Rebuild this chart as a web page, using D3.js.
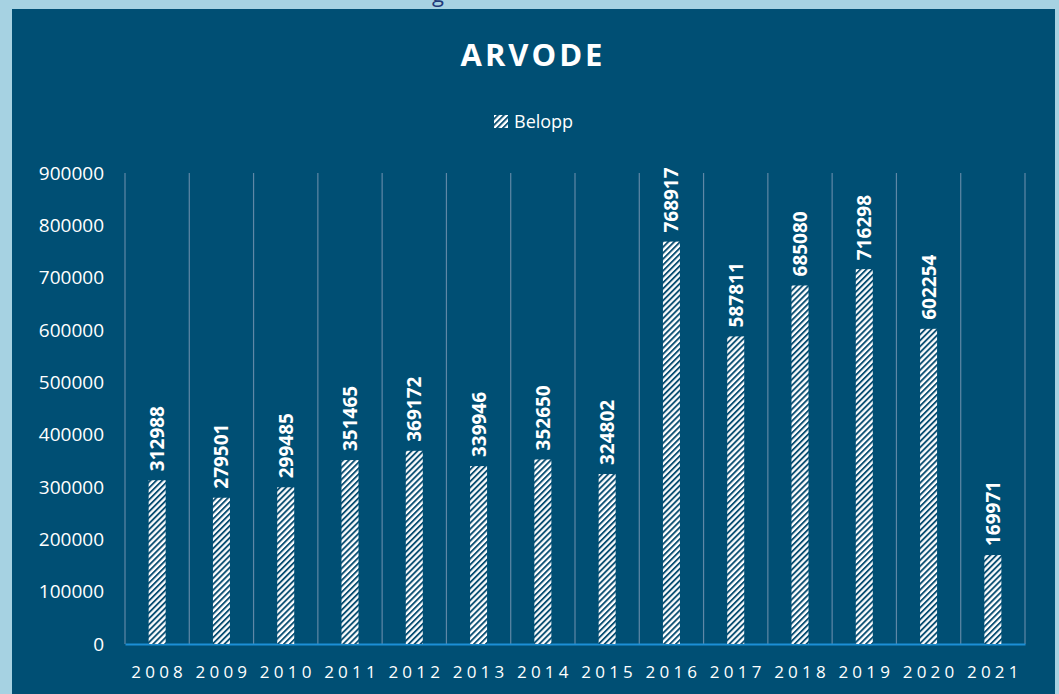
<!DOCTYPE html>
<html lang="sv">
<head>
<meta charset="UTF-8">
<title>ARVODE</title>
<script src="https://d3js.org/d3.v7.min.js"></script>
<style>
  body { margin: 0; background: #a6d2e2; overflow: hidden; }
  svg { display: block; font-family: "Open Sans", "Noto Sans", sans-serif; }
  .tick text { fill: #fff; }
</style>
</head>
<body>
<svg id="chart"></svg>
<script>
const years = ["2008","2009","2010","2011","2012","2013","2014","2015","2016","2017","2018","2019","2020","2021"];
const belopp = [312988, 279501, 299485, 351465, 369172, 339946, 352650, 324802, 768917, 587811, 685080, 716298, 602254, 169971];
const yTicks = [0, 100000, 200000, 300000, 400000, 500000, 600000, 700000, 800000, 900000];

const W = 1059, H = 694;
const svg = d3.select("#chart").attr("width", W).attr("height", H);

const defs = svg.append("defs");
const pat = defs.append("pattern")
  .attr("id", "hatch")
  .attr("patternUnits", "userSpaceOnUse")
  .attr("width", 4.2).attr("height", 4.2)
  .attr("patternTransform", "rotate(45)");
pat.append("rect").attr("width", 4.2).attr("height", 4.2).attr("fill", "#fff");
pat.append("rect").attr("x", 0).attr("width", 1.9).attr("height", 4.2).attr("fill", "#0b4f73");

// cropped heading above panel
svg.append("text").attr("x", 432).attr("y", 2).attr("fill", "#1f3a7a")
  .attr("font-size", 22).text("g");

// panel
svg.append("rect").attr("x", 12).attr("y", 9).attr("width", 1043).attr("height", H)
  .attr("fill", "#004f74");

const x = d3.scaleBand().domain(years).range([125, 1025]).padding(0);
const y = d3.scaleLinear().domain([0, 900000]).range([644, 173]);
const barW = 17;

// vertical gridlines at category boundaries
svg.append("g").selectAll("line")
  .data(d3.range(years.length + 1))
  .join("line")
  .attr("x1", i => 125 + i * x.bandwidth())
  .attr("x2", i => 125 + i * x.bandwidth())
  .attr("y1", y(900000)).attr("y2", y(0))
  .attr("stroke", "#5f88a6").attr("stroke-width", 1.2);

// title
svg.append("text").attr("x", 533).attr("y", 66).attr("text-anchor", "middle")
  .attr("fill", "#fff").attr("font-size", 31).attr("font-weight", "bold")
  .attr("letter-spacing", 3).text("ARVODE");

// legend
svg.append("rect").attr("x", 494).attr("y", 115).attr("width", 14).attr("height", 13)
  .attr("fill", "url(#hatch)");
svg.append("text").attr("x", 514).attr("y", 127.5).attr("fill", "#fff")
  .attr("font-size", 18).text("Belopp");

// y axis
const yAxis = svg.append("g").attr("transform", "translate(104,0)")
  .call(d3.axisLeft(y).tickValues(yTicks).tickSize(0).tickFormat(d3.format("d")))
  .attr("font-family", null).attr("font-size", null);
yAxis.select(".domain").remove();
yAxis.selectAll("text").attr("font-size", 19).attr("x", 0);

// x axis
const xAxis = svg.append("g").attr("transform", "translate(0,644)")
  .call(d3.axisBottom(x).tickSize(0))
  .attr("font-family", null).attr("font-size", null);
xAxis.select(".domain").attr("stroke", "#1c8fd6").attr("stroke-width", 2);
xAxis.selectAll("text").attr("font-size", 17).attr("letter-spacing", 4.2)
  .attr("dy", 0).attr("y", 34).attr("dx", 2);

// bars
svg.append("g").selectAll("rect")
  .data(years)
  .join("rect")
  .attr("x", (d, i) => x(d) + x.bandwidth() / 2 - barW / 2)
  .attr("y", (d, i) => y(belopp[i]))
  .attr("width", barW)
  .attr("height", (d, i) => y(0) - y(belopp[i]))
  .attr("fill", "url(#hatch)");

// value labels
svg.append("g").selectAll("text")
  .data(years)
  .join("text")
  .attr("transform", (d, i) => {
    const cx = x(d) + x.bandwidth() / 2 + 7;
    const cy = y(belopp[i]) - 9;
    return `translate(${cx},${cy}) rotate(-90)`;
  })
  .attr("fill", "#fff").attr("font-size", 19).attr("font-weight", "bold")
  .text((d, i) => belopp[i]);
</script>
</body>
</html>
